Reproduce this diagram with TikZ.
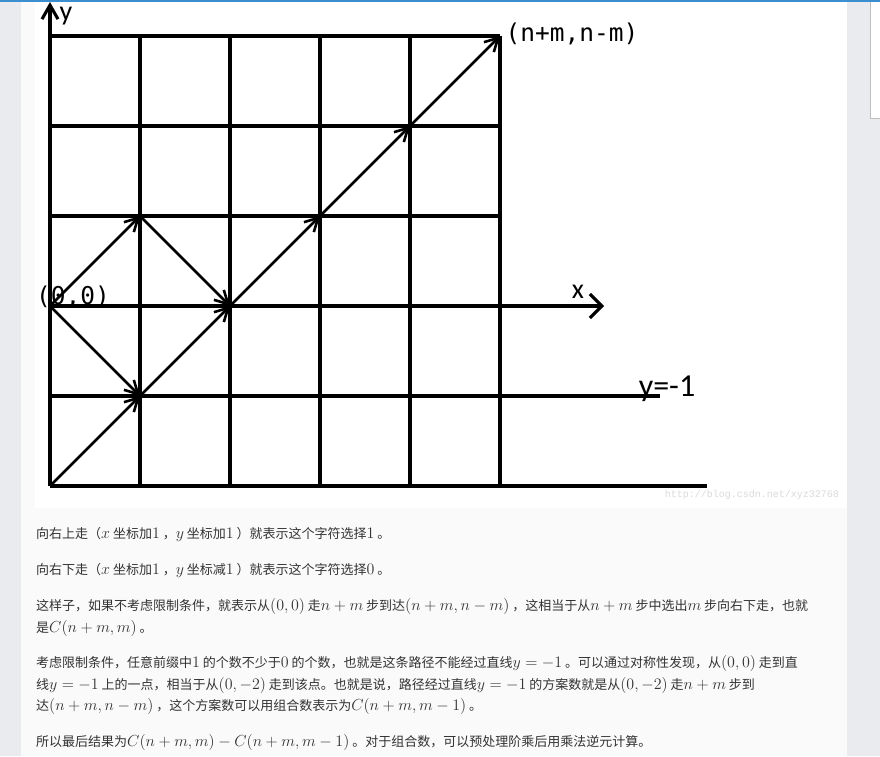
\RequirePackage{fix-cm}
\documentclass[tikz,border=0pt]{standalone}
\usepackage{amsmath}
\usepackage[no-math]{fontspec}
\usepackage{tikz}
\usetikzlibrary{arrows.meta, positioning}

\newfontfamily\cjkfont{Noto Sans CJK SC}
\newfontfamily\monofont{DejaVu Sans Mono}
\newfontfamily\labelfont{Carlito}
\newfontfamily\markfont{Liberation Mono}
% inline formula, set a little larger than the Chinese text
\newcommand{\km}[1]{{\fontsize{16}{18}\selectfont$#1$}}

\definecolor{pagegray}{HTML}{E9EBEE}
\definecolor{panelbg}{HTML}{FAFAFA}
\definecolor{topbar}{HTML}{3B8ED0}
\definecolor{bodytext}{HTML}{333333}
\definecolor{markgray}{HTML}{DADADA}

\begin{document}
\begin{tikzpicture}[
    x=1pt, y=-1pt,
    gridline/.style={line width=3.1pt},
    axisline/.style={line width=3.1pt, -{Straight Barb[length=12pt, width=24pt]}},
    yaxisline/.style={line width=3.1pt, -{Straight Barb[length=14pt, width=16pt]}},
    walk/.style={line width=2.6pt, -{Straight Barb[length=13pt, width=14pt]}},
    axislabel/.style={inner sep=0pt, font=\labelfont\fontsize{28}{30}\selectfont},
    pointlabel/.style={inner sep=0pt, font=\monofont\fontsize{24.5}{28}\selectfont},
    bodyline/.style={anchor=base west, inner sep=0pt, text=bodytext, font=\cjkfont\fontsize{13}{16}\selectfont}
]
\useasboundingbox (0,0) rectangle (880,756);

% page and panels
\fill[pagegray] (0,0) rectangle (880,756);
\fill[panelbg] (21,0) rectangle (847,756);
\fill[white] (35,0) rectangle (847,508);
\filldraw[fill=white, draw=black!25] (870,-1) rectangle (881,118);
\fill[topbar] (0,0) rectangle (880,1.6);

% lattice points, column c and row r (origin is g-0-2)
\foreach \c in {0,...,5}
  \foreach \r in {0,...,5}
    \coordinate (g-\c-\r) at ({50+90*\c},{486-90*\r});
\coordinate (ytip) at (50,2);
\coordinate (xtip) at (604,306);
\coordinate (lowend) at (660,396);
\coordinate (baseend) at (707,486);

% grid
\foreach \c in {1,...,5}
  \draw[gridline] (g-\c-0) -- (g-\c-5);
\foreach \r in {3,4,5}
  \draw[gridline] (g-0-\r) -- (g-5-\r);
\draw[gridline] (g-0-1) -- (lowend);
\draw[gridline] (g-0-0) -- (baseend);
\draw[yaxisline] (g-0-0) -- (ytip);
\draw[axisline] (g-0-2) -- (xtip);

% walks
\draw[walk] (g-0-2) -- (g-1-3);
\draw[walk] (g-1-3) -- (g-2-2);
\draw[walk] (g-0-2) -- (g-1-1);
\draw[walk] (g-0-0) -- (g-1-1);
\draw[walk] (g-1-1) -- (g-2-2);
\draw[walk] (g-2-2) -- (g-3-3);
\draw[walk] (g-3-3) -- (g-4-4);
\draw[walk] (g-4-4) -- (g-5-5);

% labels
\node[axislabel] (ylab) at (66,16) {y};
\node[axislabel] (xlab) at (578,292) {x};
\node[axislabel, font=\labelfont\fontsize{32}{34}\selectfont] (linelab) at (667,389) {y=-1};
\node[pointlabel] (originlab) at (73,297) {(0,0)};
\node[pointlabel] (endlab) at (572,34) {(n+m,n-m)};
\node[inner sep=0pt, text=markgray, font=\markfont\fontsize{10}{12}\selectfont] (mark) at (752,495) {http://blog.csdn.net/xyz32768};

% text under the picture
\node[bodyline] (txtA) at (36,538) {向右上走（\km{x} 坐标加\km{1} ，\km{y} 坐标加\km{1} ）就表示这个字符选择\km{1} 。};
\node[bodyline] (txtB) at (36,574) {向右下走（\km{x} 坐标加\km{1} ，\km{y} 坐标减\km{1} ）就表示这个字符选择\km{0} 。};
\node[bodyline] (txtC) at (36,610) {这样子，如果不考虑限制条件，就表示从\km{(0,0)} 走\km{n+m} 步到达\km{(n+m,n-m)} ，这相当于从\km{n+m} 步中选出\km{m} 步向右下走，也就};
\node[bodyline] (txtD) at (36,632) {是\km{C(n+m,m)} 。};
\node[bodyline] (txtE) at (36,667) {考虑限制条件，任意前缀中\km{1} 的个数不少于\km{0} 的个数，也就是这条路径不能经过直线\km{y=-1} 。可以通过对称性发现，从\km{(0,0)} 走到直};
\node[bodyline] (txtF) at (36,689) {线\km{y=-1} 上的一点，相当于从\km{(0,-2)} 走到该点。也就是说，路径经过直线\km{y=-1} 的方案数就是从\km{(0,-2)} 走\km{n+m} 步到};
\node[bodyline] (txtG) at (36,710) {达\km{(n+m,n-m)} ，这个方案数可以用组合数表示为\km{C(n+m,m-1)} 。};
\node[bodyline] (txtH) at (36,746) {所以最后结果为\km{C(n+m,m)-C(n+m,m-1)} 。对于组合数，可以预处理阶乘后用乘法逆元计算。};

\end{tikzpicture}
\end{document}
